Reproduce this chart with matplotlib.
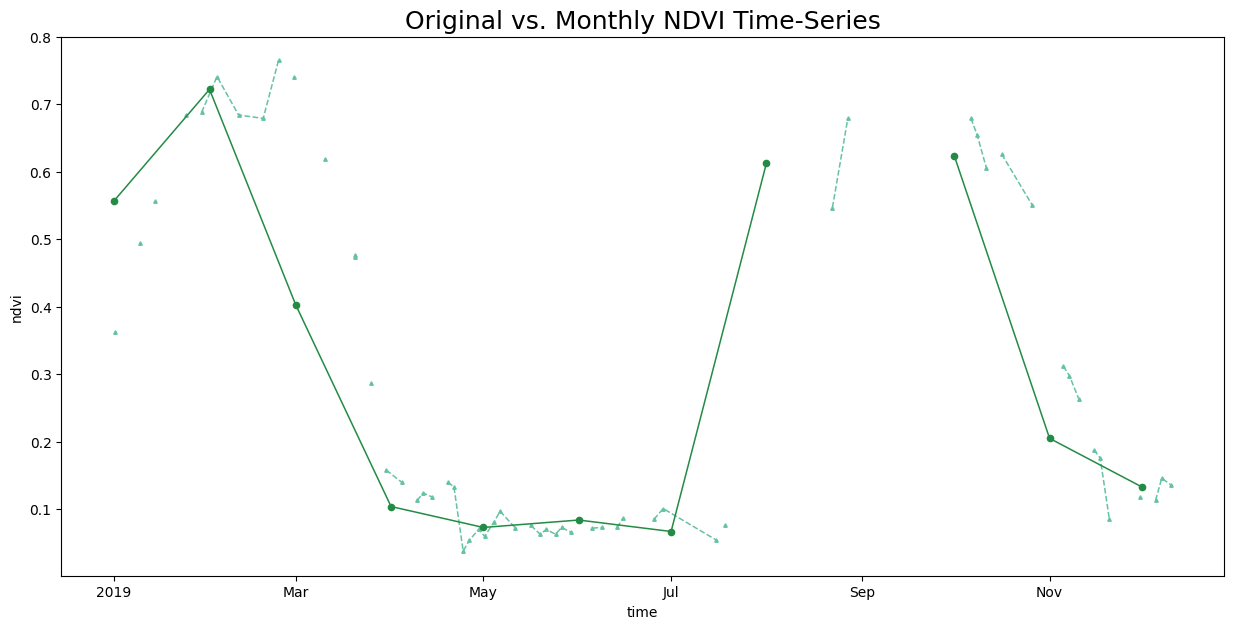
import numpy as np
import pandas as pd
import matplotlib
matplotlib.use("Agg")
import matplotlib.pyplot as plt
import matplotlib.dates as mdates

nan = np.nan

# serie original (NaN = sem dado, quebra a linha)
orig_dates = [
    "2019-01-01", "2019-01-05", "2019-01-09", "2019-01-11", "2019-01-14", "2019-01-19",
    "2019-01-24", "2019-01-26", "2019-01-29", "2019-02-03", "2019-02-10", "2019-02-18",
    "2019-02-23", "2019-02-25", "2019-02-28", "2019-03-05", "2019-03-10", "2019-03-15",
    "2019-03-20", "2019-03-20", "2019-03-22", "2019-03-25", "2019-03-27", "2019-03-30",
    "2019-04-04", "2019-04-06", "2019-04-09", "2019-04-11", "2019-04-14", "2019-04-16",
    "2019-04-19", "2019-04-21", "2019-04-24", "2019-04-26", "2019-04-29", "2019-05-01",
    "2019-05-04", "2019-05-06", "2019-05-11", "2019-05-14", "2019-05-16", "2019-05-19",
    "2019-05-21", "2019-05-24", "2019-05-26", "2019-05-29", "2019-06-01", "2019-06-05",
    "2019-06-08", "2019-06-10", "2019-06-13", "2019-06-15", "2019-06-20", "2019-06-25",
    "2019-06-28", "2019-07-15", "2019-07-16", "2019-07-18", "2019-08-01", "2019-08-22",
    "2019-08-27", "2019-09-15", "2019-10-06", "2019-10-08", "2019-10-11", "2019-10-13",
    "2019-10-16", "2019-10-26", "2019-10-31", "2019-11-05", "2019-11-07", "2019-11-10",
    "2019-11-12", "2019-11-15", "2019-11-17", "2019-11-20", "2019-11-25", "2019-11-30",
    "2019-12-02", "2019-12-05", "2019-12-07", "2019-12-10",
]
orig_ndvi = [
    0.363, nan, 0.494, nan, 0.556, nan,
    0.684, nan, 0.688, 0.741, 0.684, 0.679,
    0.765, nan, 0.741, nan, 0.619, nan,
    0.477, 0.473, nan, 0.287, nan, 0.158,
    0.140, nan, 0.113, 0.124, 0.118, nan,
    0.140, 0.133, 0.038, 0.054, 0.070, 0.060,
    0.081, 0.097, 0.072, nan, 0.076, 0.063,
    0.070, 0.063, 0.073, 0.066, nan, 0.072,
    0.073, nan, 0.073, 0.087, nan, 0.085,
    0.101, 0.055, nan, 0.076, nan, 0.547,
    0.679, nan, 0.679, 0.655, 0.606, nan,
    0.626, 0.550, nan, 0.312, 0.298, 0.264,
    nan, 0.188, 0.176, 0.085, nan, 0.118,
    nan, 0.113, 0.146, 0.136,
]
hora_passagem = "10:30"  # horario aproximado de aquisicao

# media mensal
monthly_dates = ["2019-%02d-01" % m for m in range(1, 13)]
monthly_ndvi = [0.557, 0.722, 0.403, 0.104, 0.073, 0.084, 0.067, 0.613, nan, 0.624, 0.205, 0.133]

t_orig = pd.to_datetime([d + " " + hora_passagem for d in orig_dates])
t_mon = pd.to_datetime(monthly_dates)

fig, ax = plt.subplots(figsize=(15, 7))
ax.plot(t_orig, orig_ndvi, color="#66c2a4", linestyle="--", linewidth=1.1,
        marker="^", markersize=2.5)
ax.plot(t_mon, monthly_ndvi, color="#238b45", linewidth=1.1,
        marker="o", markersize=4.5)

locator = mdates.AutoDateLocator()
ax.xaxis.set_major_locator(locator)
ax.xaxis.set_major_formatter(mdates.ConciseDateFormatter(locator, show_offset=False))

ax.set_ylim(0.0015, 0.8)
ax.set_xlabel("time")
ax.set_ylabel("ndvi")
ax.set_title("Original vs. Monthly NDVI Time-Series", fontsize=18)

plt.savefig("out.png", dpi=100, bbox_inches="tight")
